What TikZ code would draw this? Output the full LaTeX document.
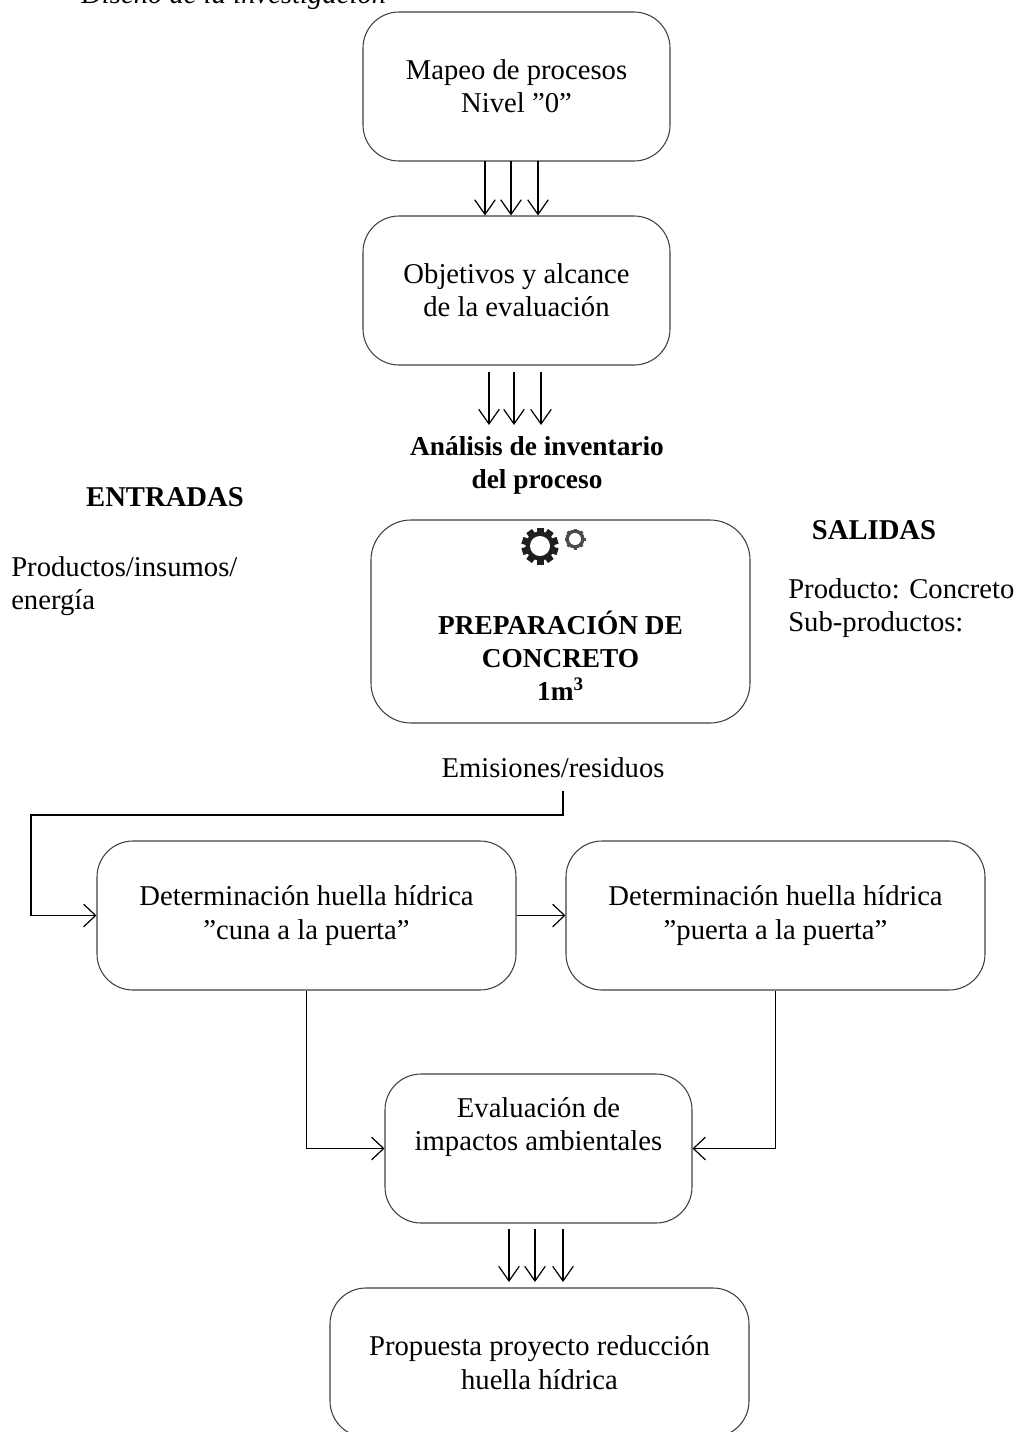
\documentclass[tikz,border=0pt]{standalone}
\usepackage{fontspec}
\setmainfont{Liberation Serif}
\usetikzlibrary{arrows.meta}
\tikzset{
  px/.style={x=0.75pt,y=-0.75pt},
  bx/.style={draw=black!75,line width=0.8pt,rounded corners=27pt,inner sep=0pt,align=center,font=\fontsize{21.5pt}{25pt}\selectfont},
  lbl/.style={inner sep=0pt,font=\fontsize{21.5pt}{25pt}\selectfont,align=left},
  blbl/.style={inner sep=0pt,font=\fontsize{20.5pt}{24.7pt}\selectfont\bfseries,align=center},
  arr/.style={line width=0.9pt,-{Straight Barb[length=11pt,width=17pt,angle'=70,line width=0.9pt]}},
  con/.style={line width=0.9pt,-{Straight Barb[length=9pt,width=17pt,line width=0.9pt]}}
}
\begin{document}
\begin{tikzpicture}[px]
\useasboundingbox (0,0) rectangle (1020,1432);
\clip (0,0) rectangle (1020,1432);
\node[anchor=base west,inner sep=0pt,font=\fontsize{21.5pt}{25pt}\selectfont\itshape] (title) at (81,3) {Diseño de la investigación};
\node[bx,minimum width=230.25pt,minimum height=111.75pt] (a) at (516.5,86.5) {Mapeo de procesos\\Nivel "0"};
\node[bx,minimum width=230.25pt,minimum height=111.75pt] (b) at (516.5,290.5) {Objetivos y alcance\\de la evaluación};
\node[blbl] (inv) at (537,465.5) {Análisis de inventario\\del proceso};
\node[bx,minimum width=284.25pt,minimum height=152.25pt,rounded corners=30pt] (c) at (560.5,621.5) {};
\node[blbl] (ct) at (560.5,656) {PREPARACIÓN DE\\CONCRETO\\1m\textsuperscript{3}};
\node[blbl,font=\fontsize{21.5pt}{25pt}\selectfont\bfseries] (ent) at (165,497) {ENTRADAS};
\node[blbl,font=\fontsize{21.5pt}{25pt}\selectfont\bfseries] (sal) at (874,530) {SALIDAS};
\node[lbl,anchor=north west] (pi) at (11,556) {Productos/insumos/\\energía};
\node[lbl,anchor=north west] (pr) at (788,578) {Producto: Concreto\\Sub-productos:};
\node[lbl] (em) at (553,768) {Emisiones/residuos};
\node[bx,minimum width=314.25pt,minimum height=111.75pt] (d) at (306.5,915.5) {Determinación huella hídrica\\"cuna a la puerta"};
\node[bx,minimum width=314.25pt,minimum height=111.75pt] (e) at (775.5,915.5) {Determinación huella hídrica\\"puerta a la puerta"};
\node[bx,minimum width=230.25pt,minimum height=111.75pt] (f) at (538.5,1148.5) {};
\node[lbl,align=center] (ft) at (538.5,1127) {Evaluación de\\impactos ambientales};
\node[bx,minimum width=314.25pt,minimum height=111.75pt] (g) at (539.5,1362.5) {Propuesta proyecto reducción\\huella hídrica};
% gears
\fill[black!88] (540,546) circle (14.5);
\foreach \t in {0,36,...,324}{\fill[black!88,rotate around={\t:(540,546)}] (536.5,527.5) rectangle (543.5,536);}
\fill[white] (540,546) circle (10);
\fill[black!70] (575,539) circle (9.5);
\foreach \t in {0,45,...,315}{\fill[black!70,rotate around={\t:(575,539)}] (573.5,528.5) rectangle (576.5,532);}
\fill[white] (575,539) circle (6);
% triple arrows
\coordinate (a1) at (485,161); \coordinate (a2) at (511,161); \coordinate (a3) at (538,161);
\foreach \p in {a1,a2,a3}{\draw[arr] (\p) -- (\p |- b.north);}
\coordinate (b1) at (489,372); \coordinate (b2) at (514,372); \coordinate (b3) at (541,372);
\coordinate (b1e) at (489,425); \coordinate (b2e) at (514,425); \coordinate (b3e) at (541,425);
\draw[arr] (b1) -- (b1e); \draw[arr] (b2) -- (b2e); \draw[arr] (b3) -- (b3e);
\coordinate (f1) at (509,1229); \coordinate (f2) at (535,1229); \coordinate (f3) at (563,1229);
\coordinate (f1e) at (509,1282); \coordinate (f2e) at (535,1282); \coordinate (f3e) at (563,1282);
\draw[arr] (f1) -- (f1e); \draw[arr] (f2) -- (f2e); \draw[arr] (f3) -- (f3e);
% connectors
\coordinate (es) at (563,791);
\coordinate (eb) at (563,815);
\coordinate (el) at (31,815);
\draw[con] (es) -- (eb) -- (el) -- (el |- d.west) -- (d.west);
\draw[con] (d.east) -- (e.west);
\draw[con] (d.south) -- (d.south |- f.west) -- (f.west);
\draw[con] (e.south) -- (e.south |- f.east) -- (f.east);
\end{tikzpicture}
\end{document}
